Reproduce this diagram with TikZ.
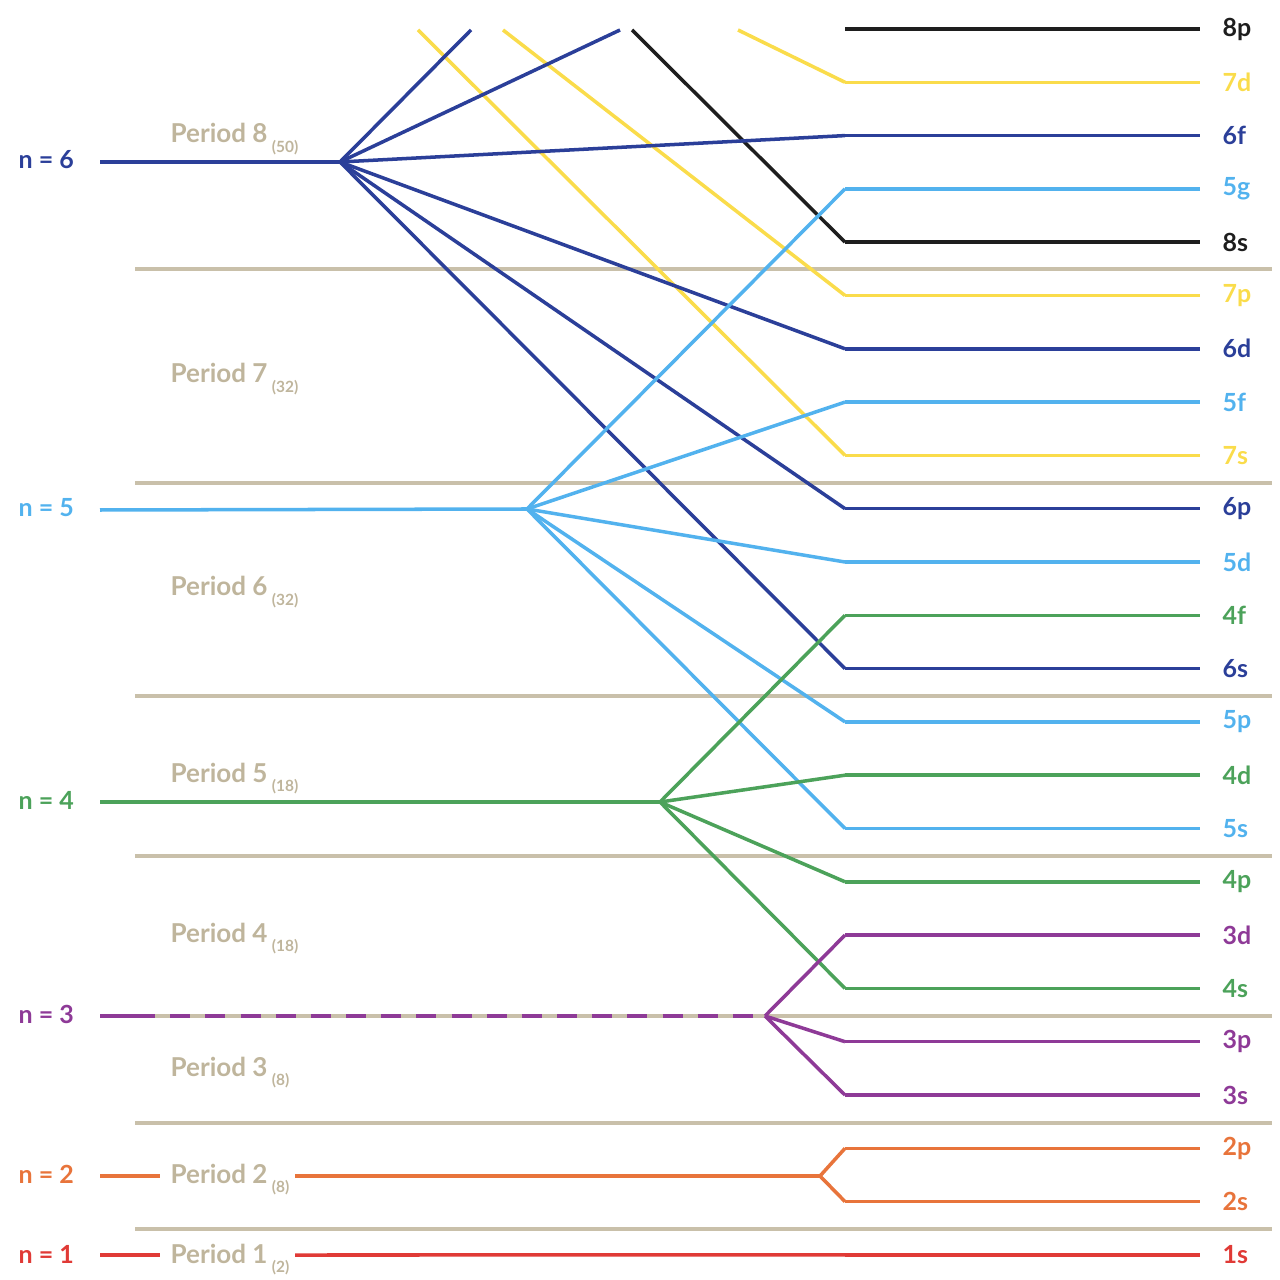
\documentclass[tikz,border=0pt]{standalone}
\usepackage{fontspec}
\setmainfont{Lato}
\definecolor{cSix}{HTML}{2B3F99}
\definecolor{cFive}{HTML}{52B2EE}
\definecolor{cFour}{HTML}{4CA25A}
\definecolor{cThree}{HTML}{8E3A97}
\definecolor{cTwo}{HTML}{E8743B}
\definecolor{cOne}{HTML}{E03A36}
\definecolor{cSeven}{HTML}{FADC4B}
\definecolor{cEight}{HTML}{1E1E1E}
\definecolor{tanline}{HTML}{C9C0AA}
\definecolor{tantext}{HTML}{BFB59C}
\begin{document}
\begin{tikzpicture}[x=0.01cm,y=-0.01cm,
  lvl/.style={line width=1.0pt,line join=round},
  sepline/.style={tanline,line width=1.0pt},
  nlab/.style={font=\fontsize{7.1}{8}\selectfont\bfseries,anchor=west,inner sep=0pt},
  olab/.style={font=\fontsize{7.1}{8}\selectfont\bfseries,anchor=west,inner sep=0pt},
  plab/.style={font=\fontsize{7.4}{9}\selectfont\bfseries,text=tantext,anchor=base west,inner ysep=0pt,inner xsep=2.85pt}]
\useasboundingbox (0,0) rectangle (1280,1280);

% period separators
\foreach \y [count=\i] in {269,483,696,856,1016,1123,1229}
  \draw[sepline] (135,\y) coordinate (sa\i) -- (1272,\y) coordinate (sb\i);

% right-hand levels
\foreach \nm/\k/\col in {8p/0/cEight,7d/1/cSeven,6f/2/cSix,5g/3/cFive,8s/4/cEight,7p/5/cSeven,6d/6/cSix,5f/7/cFive,7s/8/cSeven,6p/9/cSix,5d/10/cFive,4f/11/cFour,6s/12/cSix,5p/13/cFive,4d/14/cFour,5s/15/cFive,4p/16/cFour,3d/17/cThree,4s/18/cFour,3p/19/cThree,3s/20/cThree,2p/21/cTwo,2s/22/cTwo,1s/23/cOne}{
  \coordinate (s\nm) at (845,29+53.3*\k);
  \coordinate (e\nm) at (1200,29+53.3*\k);
  \draw[lvl,\col] (s\nm) -- (e\nm);
  \node[olab,text=\col] (l\nm) at (1222,29+53.3*\k) {\nm};
}

% branch points and left starts
\coordinate (n6) at (100,162); \coordinate (b6) at (340,162);
\coordinate (n5) at (100,510); \coordinate (b5) at (527,509);
\coordinate (n4) at (100,802); \coordinate (b4) at (660,802);
\coordinate (n3) at (100,1016); \coordinate (k3) at (135,1016); \coordinate (b3) at (765,1016);
\coordinate (n2) at (100,1176); \coordinate (b2) at (820,1176);
\coordinate (n1) at (100,1255);

% top free ends
\coordinate (t6a) at (471,30);
\coordinate (t6b) at (620,30);
\coordinate (t7a) at (418,30);
\coordinate (t7b) at (503,30);
\coordinate (t7c) at (738,30);
\coordinate (t8a) at (632,30);

% n labels
\node[nlab,text=cSix] (ln6) at (18,160) {n = 6};
\node[nlab,text=cFive] (ln5) at (18,508) {n = 5};
\node[nlab,text=cFour] (ln4) at (18,800) {n = 4};
\node[nlab,text=cThree] (ln3) at (18,1014) {n = 3};
\node[nlab,text=cTwo] (ln2) at (18,1174) {n = 2};
\node[nlab,text=cOne] (ln1) at (18,1254) {n = 1};

% period labels
\newcommand{\psub}[1]{\,\raisebox{-2.6pt}{\fontsize{4.4}{5}\selectfont #1}}
\node[plab] (p8) at (160,143) {Period 8\psub{(50)}};
\node[plab] (p7) at (160,383) {Period 7\psub{(32)}};
\node[plab] (p6) at (160,596) {Period 6\psub{(32)}};
\node[plab] (p5) at (160,782) {Period 5\psub{(18)}};
\node[plab] (p4) at (160,942) {Period 4\psub{(18)}};
\node[plab] (p3) at (160,1076) {Period 3\psub{(8)}};
\node[plab] (p2) at (160,1183) {Period 2\psub{(8)}};
\node[plab] (p1) at (160,1263) {Period 1\psub{(2)}};

% yellow and black (n=7, n=8)
\draw[lvl,cSeven] (t7a) -- (s7s);
\draw[lvl,cSeven] (t7b) -- (s7p);
\draw[lvl,cSeven] (t7c) -- (s7d);
\draw[lvl,cEight] (t8a) -- (s8s);

% n = 6
\draw[lvl,cSix] (n6) -- (b6);
\foreach \t in {t6a,t6b,s6f,s6d,s6p,s6s} \draw[lvl,cSix] (b6) -- (\t);

% n = 5
\draw[lvl,cFive] (n5) -- (b5);
\foreach \t in {s5g,s5f,s5d,s5p,s5s} \draw[lvl,cFive] (b5) -- (\t);

% n = 4
\draw[lvl,cFour] (n4) -- (b4);
\foreach \t in {s4f,s4d,s4p,s4s} \draw[lvl,cFour] (b4) -- (\t);

% n = 3
\draw[lvl,cThree] (n3) -- (k3);
\draw[lvl,cThree,dash pattern=on 5.7pt off 4.3pt] (k3) -- (b3);
\foreach \t in {s3d,s3p,s3s} \draw[lvl,cThree] (b3) -- (\t);

% n = 2
\draw[lvl,cTwo] (n2) -- (n2 -| p2.west);
\draw[lvl,cTwo] ([xshift=-1.4pt]n2 -| p2.east) -- (b2);
\foreach \t in {s2p,s2s} \draw[lvl,cTwo] (b2) -- (\t);

% n = 1
\draw[lvl,cOne] (n1) -- (n1 -| p1.west);
\draw[lvl,cOne] ([xshift=-1.4pt]n1 -| p1.east) -- (s1s);
\end{tikzpicture}
\end{document}
